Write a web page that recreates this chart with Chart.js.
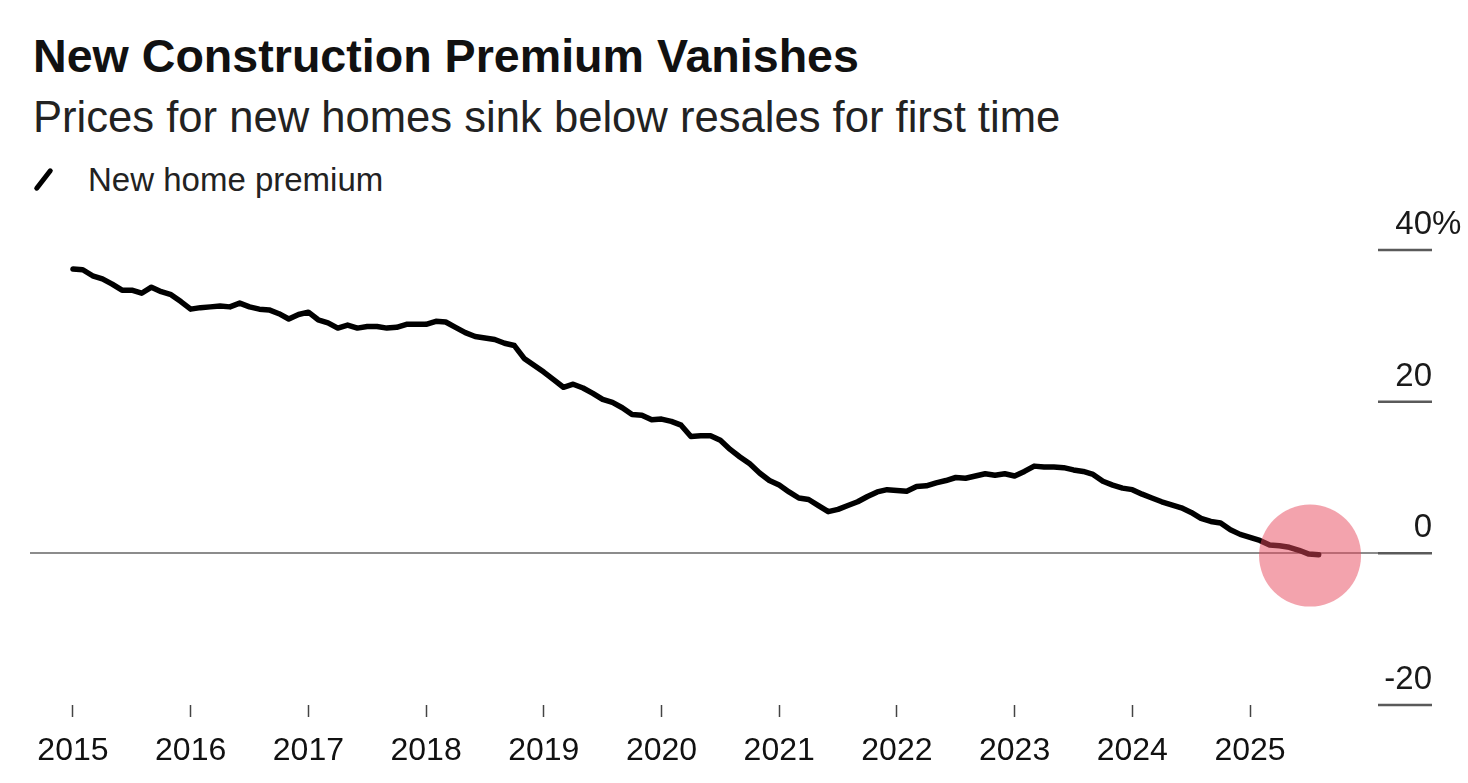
<!DOCTYPE html>
<html>
<head>
<meta charset="utf-8">
<script src="https://cdn.jsdelivr.net/npm/chart.js@4"></script>
<style>
html,body{margin:0;padding:0;background:#fff;}
body{width:1468px;height:783px;position:relative;overflow:hidden;font-family:"Liberation Sans",Arial,sans-serif;color:#111;}
#c{position:absolute;left:0;top:0;}
.t{position:absolute;white-space:nowrap;line-height:1;}
#title{left:33px;top:33px;font-size:46.6px;font-weight:bold;color:#111;}
#sub{left:33px;top:96px;font-size:43.6px;color:#222;}
#leg{left:88px;top:163px;font-size:33px;color:#222;}
#legline{position:absolute;left:30px;top:176.5px;width:27px;height:5px;background:#000;border-radius:2.5px;transform:rotate(-52deg);}
</style>
</head>
<body>
<div class="t" id="title">New Construction Premium Vanishes</div>
<div class="t" id="sub">Prices for new homes sink below resales for first time</div>
<div id="legline"></div>
<div class="t" id="leg">New home premium</div>
<canvas id="c" width="1468" height="783"></canvas>
<script>
// ---- data ----
const seriesName = 'New home premium';
const startYear = 2015;          // first monthly observation: Jan 2015
const premium = [
  37.5, 37.4, 36.6, 36.2, 35.5, 34.7, 34.7, 34.3, 35.1, 34.5, 34.1, 33.2,
  32.2, 32.4, 32.5, 32.6, 32.5, 33.0, 32.5, 32.2, 32.1, 31.6, 30.9, 31.5,
  31.8, 30.8, 30.4, 29.7, 30.1, 29.7, 29.9, 29.9, 29.7, 29.8, 30.2, 30.2,
  30.2, 30.6, 30.5, 29.8, 29.1, 28.6, 28.4, 28.2, 27.7, 27.4, 25.7, 24.8,
  23.9, 22.9, 21.9, 22.3, 21.8, 21.1, 20.3, 19.9, 19.2, 18.3, 18.2, 17.6,
  17.7, 17.4, 16.9, 15.4, 15.5, 15.5, 14.9, 13.7, 12.7, 11.8, 10.6, 9.6,
  9.0, 8.1, 7.3, 7.1, 6.3, 5.5, 5.8, 6.3, 6.8, 7.5, 8.1, 8.4,
  8.3, 8.2, 8.8, 8.9, 9.3, 9.6, 10.0, 9.9, 10.2, 10.5, 10.3, 10.5,
  10.2, 10.8, 11.5, 11.4, 11.4, 11.3, 11.0, 10.8, 10.4, 9.5, 9.0, 8.6,
  8.4, 7.8, 7.3, 6.8, 6.4, 6.0, 5.4, 4.6, 4.2, 4.0, 3.1, 2.5,
  2.1, 1.7, 1.1, 1.0, 0.8, 0.4, -0.1, -0.2
];
const yearTicks = [2015, 2016, 2017, 2018, 2019, 2020, 2021, 2022, 2023, 2024, 2025];
const yTicks = [-20, 0, 20, 40];
const yTickLabels = ['-20', '0', '20', '40'];
const yUnit = '%';
const highlight = [{ x: 2025.51, y: -0.3 }];
const xRange = [2014.635, 2026.546];
const yRange = [-20, 40];

// ---- chart ----
const monthX = premium.map((v, i) => startYear + i / 12);
const lineData = premium.map((v, i) => ({ x: monthX[i], y: v }));

const yLabelPlugin = {
  id: 'yLabels',
  afterDraw(chart) {
    const ys = chart.scales.y;
    const ctx = chart.ctx;
    const right = chart.chartArea.right;
    ctx.save();
    yTicks.forEach((v, i) => {
      const py = ys.getPixelForValue(v);
      ctx.strokeStyle = '#5a5a5a';
      ctx.lineWidth = 2.5;
      ctx.beginPath();
      ctx.moveTo(right - 54, py);
      ctx.lineTo(right, py);
      ctx.stroke();
      ctx.font = '33px "Liberation Sans", Arial, sans-serif';
      ctx.fillStyle = '#1a1a1a';
      ctx.textBaseline = 'alphabetic';
      ctx.textAlign = 'right';
      ctx.fillText(yTickLabels[i], right, py - 16);
      if (i === yTicks.length - 1) {
        ctx.textAlign = 'left';
        ctx.fillText(yUnit, right, py - 16);
      }
    });
    ctx.restore();
  }
};

new Chart(document.getElementById('c'), {
  type: 'line',
  data: {
    datasets: [
      {
        type: 'scatter',
        label: 'highlight',
        data: highlight,
        pointRadius: 51,
        pointHoverRadius: 51,
        backgroundColor: 'rgba(232,72,92,0.5)',
        borderWidth: 0,
        order: 0
      },
      {
        type: 'line',
        label: seriesName,
        data: lineData,
        borderColor: '#000',
        borderWidth: 5.5,
        pointRadius: 0,
        tension: 0,
        borderJoinStyle: 'round',
        borderCapStyle: 'round',
        order: 1
      }
    ]
  },
  options: {
    responsive: false,
    animation: false,
    devicePixelRatio: 1,
    layout: { autoPadding: false, padding: { left: 30, right: 36, top: 250, bottom: 0 } },
    plugins: { legend: { display: false }, tooltip: { enabled: false } },
    scales: {
      x: {
        type: 'linear',
        min: xRange[0],
        max: xRange[1],
        afterBuildTicks: s => { s.ticks = yearTicks.map(v => ({ value: v })); },
        afterFit: s => { s.height = 78; s.paddingLeft = 0; s.paddingRight = 0; },
        ticks: {
          autoSkip: false,
          maxRotation: 0,
          padding: 15,
          color: '#111',
          font: { size: 32, family: '"Liberation Sans", Arial, sans-serif' },
          callback: v => String(v)
        },
        grid: {
          drawOnChartArea: false,
          drawTicks: true,
          tickLength: 12,
          tickWidth: 1.5,
          tickColor: '#444'
        },
        border: { display: false }
      },
      y: {
        type: 'linear',
        position: 'right',
        min: yRange[0],
        max: yRange[1],
        afterBuildTicks: s => { s.ticks = yTicks.map(v => ({ value: v })); },
        afterFit: s => { s.width = 0; s.paddingTop = 0; s.paddingBottom = 0; },
        ticks: { display: false },
        grid: {
          drawTicks: false,
          lineWidth: 2,
          color: ctx => (ctx.tick && ctx.tick.value === 0) ? '#8c8c8c' : 'rgba(0,0,0,0)'
        },
        border: { display: false }
      }
    }
  },
  plugins: [yLabelPlugin]
});
</script>
</body>
</html>
